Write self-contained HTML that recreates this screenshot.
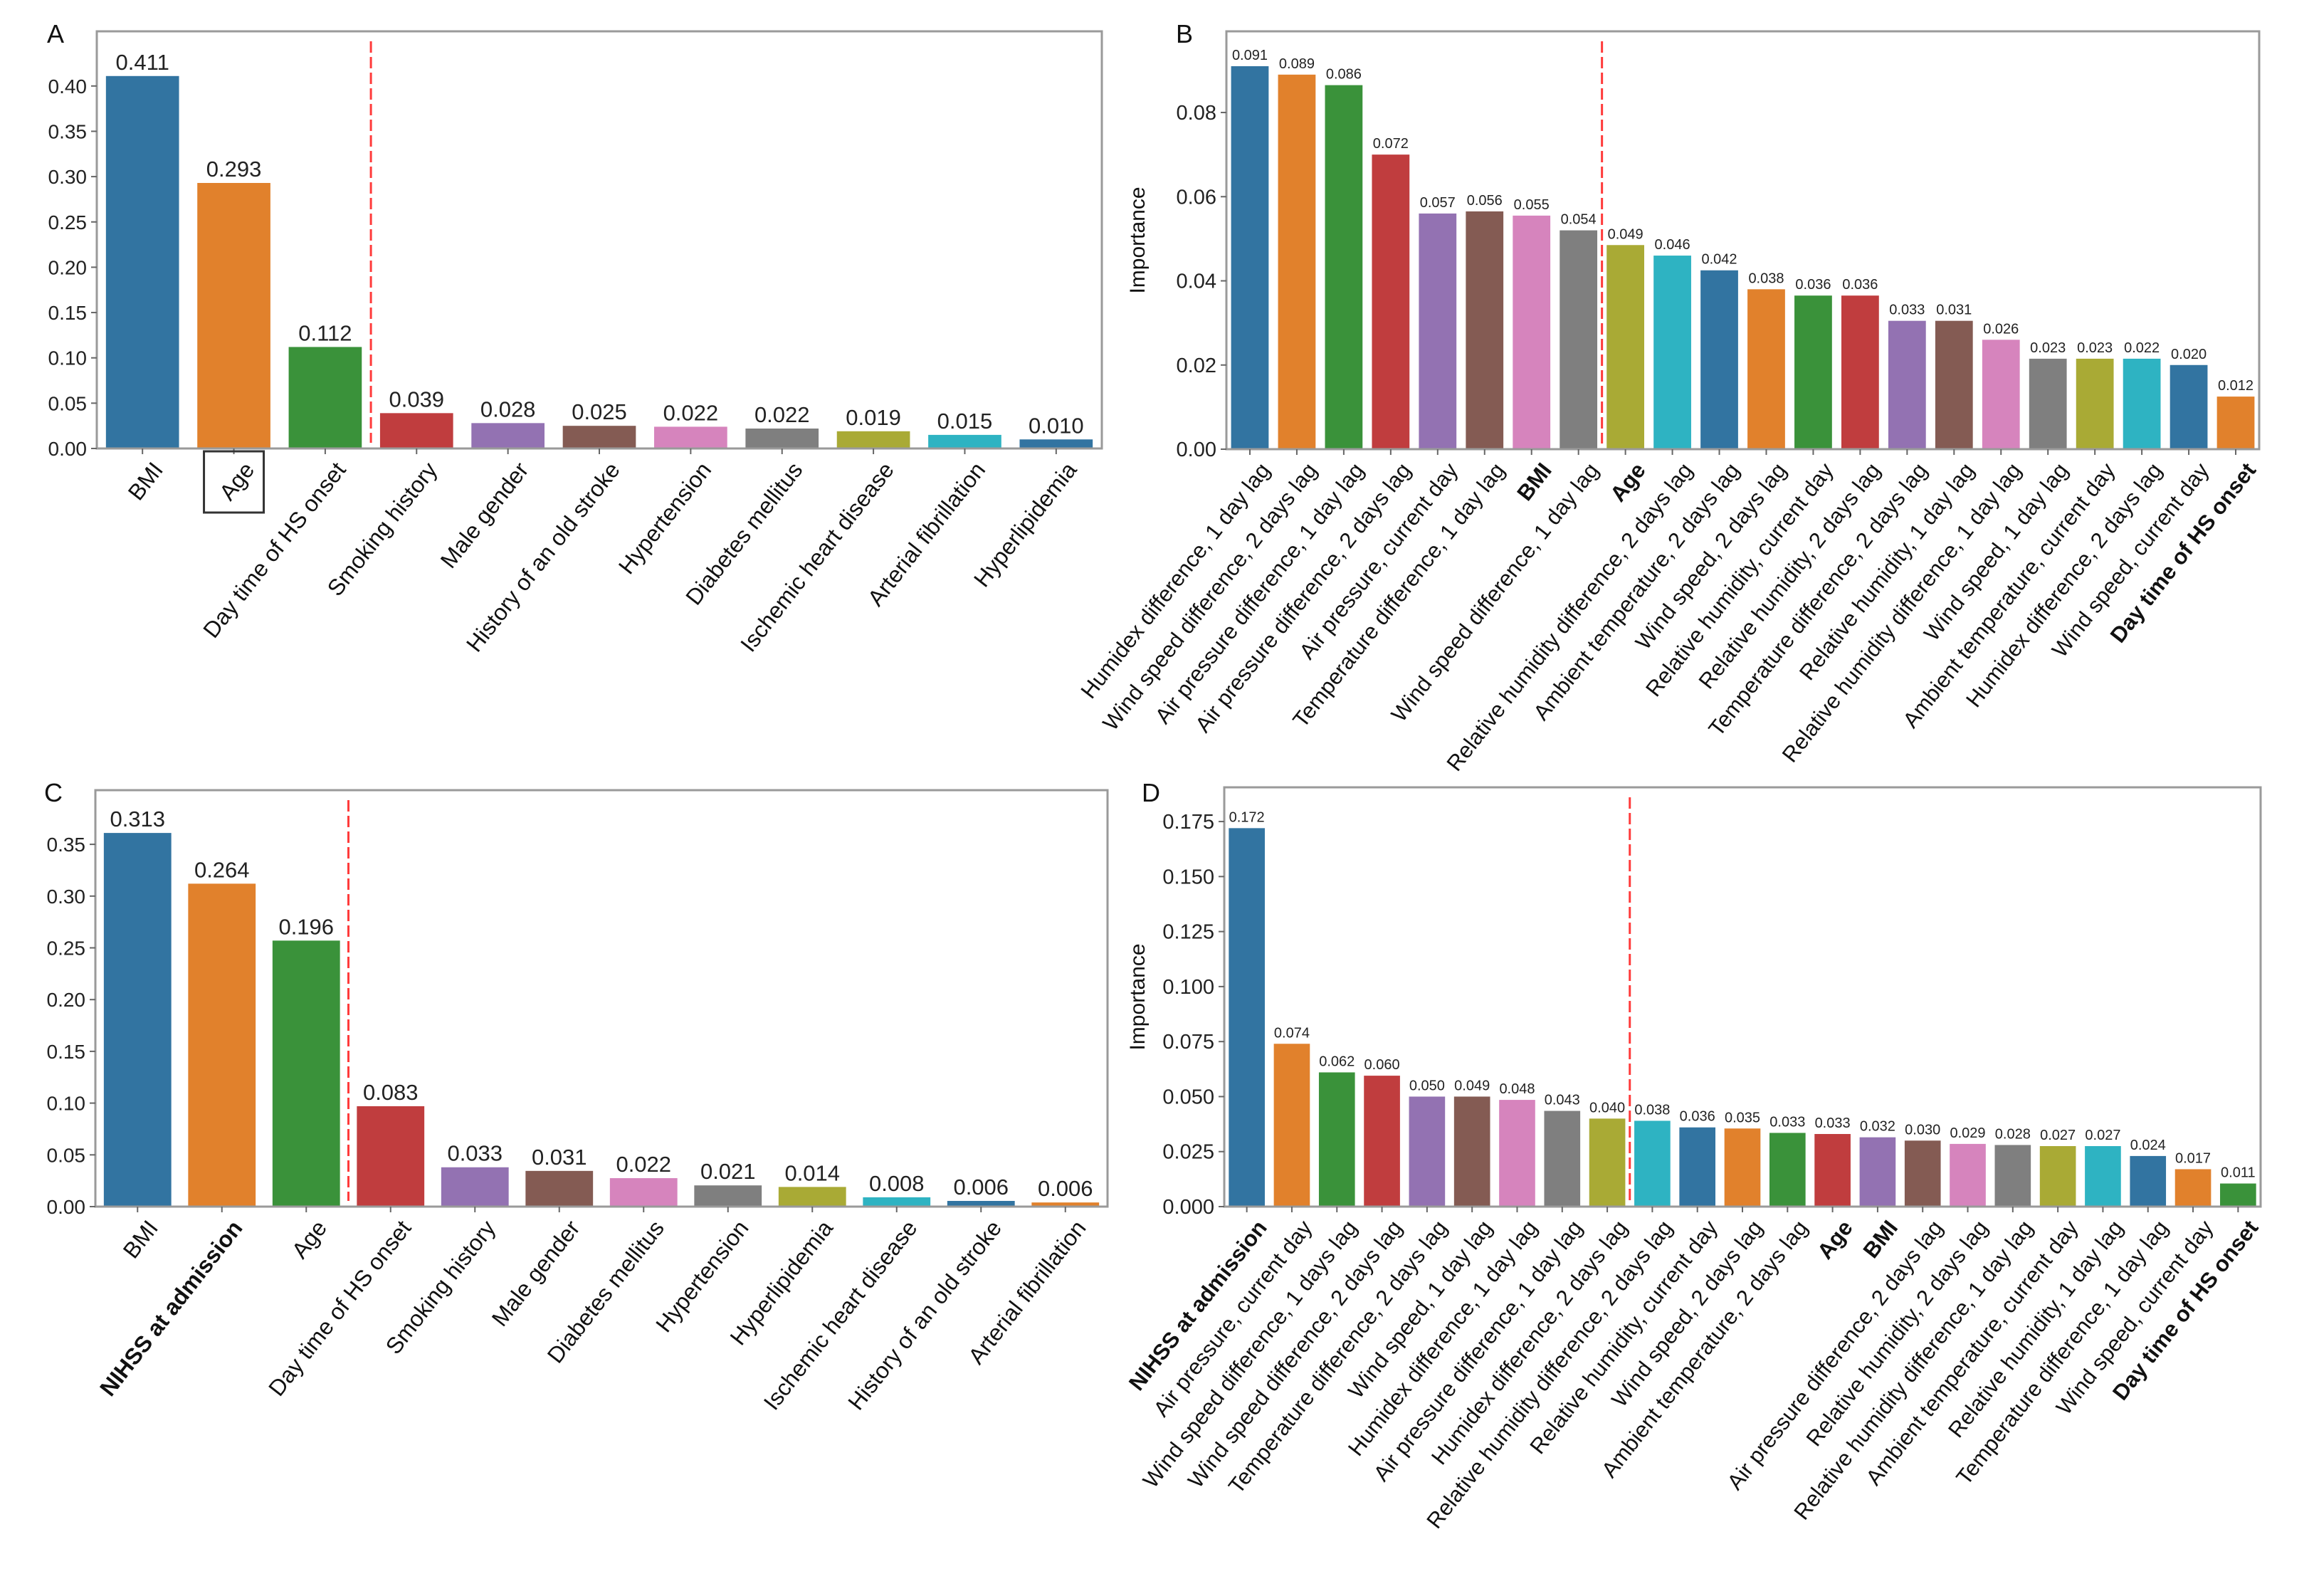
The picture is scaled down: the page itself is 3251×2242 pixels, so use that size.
<!DOCTYPE html>
<html><head><meta charset="utf-8">
<style>
html,body{margin:0;padding:0;background:#fff;}
svg{display:block;font-family:"Liberation Sans",sans-serif;}
</style></head>
<body>
<svg id="fig" width="3251" height="2242" viewBox="0 0 3251 2242" xmlns="http://www.w3.org/2000/svg"></svg>
<script>
const palette = ["#3274a1","#e1812c","#3a923a","#c03d3e","#9372b2","#845b53","#d684bd","#7f7f7f","#a9aa35","#2eb3c2"];

// Panel A
const catsA = ["BMI","Age","Day time of HS onset","Smoking history","Male gender","History of an old stroke","Hypertension","Diabetes mellitus","Ischemic heart disease","Arterial fibrillation","Hyperlipidemia"];
const valsA = [0.411,0.293,0.112,0.039,0.028,0.025,0.024,0.022,0.019,0.015,0.010];
const labsA = ["0.411","0.293","0.112","0.039","0.028","0.025","0.022","0.022","0.019","0.015","0.010"];
const ticksA = [0,0.05,0.10,0.15,0.20,0.25,0.30,0.35,0.40];
const boldA = [];

// Panel B
const catsB = ["Humidex difference, 1 day lag","Wind speed difference, 2 days lag","Air pressure difference, 1 day lag","Air pressure difference, 2 days lag","Air pressure, current day","Temperature difference, 1 day lag","BMI","Wind speed difference, 1 day lag","Age","Relative humidity difference, 2 days lag","Ambient temperature, 2 days lag","Wind speed, 2 days lag","Relative humidity, current day","Relative humidity, 2 days lag","Temperature difference, 2 days lag","Relative humidity, 1 day lag","Relative humidity difference, 1 day lag","Wind speed, 1 day lag","Ambient temperature, current day","Humidex difference, 2 days lag","Wind speed, current day","Day time of HS onset"];
const valsB = [0.091,0.089,0.0865,0.070,0.056,0.0565,0.0555,0.052,0.0485,0.046,0.0425,0.038,0.0365,0.0365,0.0305,0.0305,0.026,0.0215,0.0215,0.0215,0.020,0.0125];
const labsB = ["0.091","0.089","0.086","0.072","0.057","0.056","0.055","0.054","0.049","0.046","0.042","0.038","0.036","0.036","0.033","0.031","0.026","0.023","0.023","0.022","0.020","0.012"];
const ticksB = [0,0.02,0.04,0.06,0.08];
const boldB = ["BMI","Age","Day time of HS onset"];

// Panel C
const catsC = ["BMI","NIHSS at admission","Age","Day time of HS onset","Smoking history","Male gender","Diabetes mellitus","Hypertension","Hyperlipidemia","Ischemic heart disease","History of an old stroke","Arterial fibrillation"];
const valsC = [0.361,0.312,0.257,0.097,0.038,0.0345,0.0275,0.0205,0.019,0.009,0.0055,0.004];
const labsC = ["0.313","0.264","0.196","0.083","0.033","0.031","0.022","0.021","0.014","0.008","0.006","0.006"];
const ticksC = [0,0.05,0.10,0.15,0.20,0.25,0.30,0.35];
const boldC = ["NIHSS at admission"];

// Panel D
const catsD = ["NIHSS at admission","Air pressure, current day","Wind speed difference, 1 days lag","Wind speed difference, 2 days lag","Temperature difference, 2 days lag","Wind speed, 1 day lag","Humidex difference, 1 day lag","Air pressure difference, 1 day lag","Humidex difference, 2 days lag","Relative humidity difference, 2 days lag","Relative humidity, current day","Wind speed, 2 days lag","Ambient temperature, 2 days lag","Age","BMI","Air pressure difference, 2 days lag","Relative humidity, 2 days lag","Relative humidity difference, 1 day lag","Ambient temperature, current day","Relative humidity, 1 day lag","Temperature difference, 1 day lag","Wind speed, current day","Day time of HS onset"];
const valsD = [0.172,0.074,0.061,0.0595,0.050,0.050,0.0485,0.0435,0.040,0.039,0.036,0.0355,0.0335,0.033,0.0315,0.030,0.0285,0.028,0.0275,0.0275,0.023,0.017,0.0105];
const labsD = ["0.172","0.074","0.062","0.060","0.050","0.049","0.048","0.043","0.040","0.038","0.036","0.035","0.033","0.033","0.032","0.030","0.029","0.028","0.027","0.027","0.024","0.017","0.011"];
const ticksD = [0,0.025,0.05,0.075,0.10,0.125,0.15,0.175];
const boldD = ["NIHSS at admission","Age","BMI","Day time of HS onset"];

const NS = "http://www.w3.org/2000/svg";
const fig = document.getElementById("fig");
function mk(tag, attrs, parent){
  const e = document.createElementNS(NS, tag);
  for (const k in attrs) e.setAttribute(k, attrs[k]);
  (parent||fig).appendChild(e);
  return e;
}

function panel(cfg){
  const g = mk("g", {});
  
  
  const n = cfg.cats.length;
  const sp = (cfg.right - cfg.left) / n;
  const xf = i => cfg.left + (i + 0.5) * sp;
  const yf = v => cfg.zero - v * cfg.scale;
  const L = mk("text", {x: cfg.letterX, y: cfg.letterY, "font-size": 36, fill: "#111"}, g);
  L.textContent = cfg.id;
  
  
  cfg.vals.forEach((v, i) => {
    const bw = sp * 0.8;
    const r = mk("rect", {x: xf(i) - bw/2, y: yf(v), width: bw, height: cfg.zero - yf(v), fill: palette[i % 10]}, g);
    
    
    const t = mk("text", {x: xf(i), y: yf(v) - 9, "text-anchor": "middle", "font-size": cfg.vfs, fill: "#222"}, g);
    t.textContent = cfg.labs[i];
    
    
  });
  const lx = cfg.left + cfg.split * sp;
  const dl = mk("line", {x1: lx, x2: lx, y1: cfg.top + 14, y2: cfg.zero - 8, stroke: "#ff3b3b", "stroke-width": 3, "stroke-dasharray": "16 6"}, g);
  
  
  const fr = mk("rect", {x: cfg.left, y: cfg.top, width: cfg.right - cfg.left, height: cfg.zero - cfg.top, fill: "none", stroke: "#9a9a9a", "stroke-width": 3}, g);
  
  
  cfg.ticks.forEach(tv => {
    const y = yf(tv);
    mk("line", {x1: cfg.left - 8, x2: cfg.left, y1: y, y2: y, stroke: "#666", "stroke-width": 2}, g);
    const t = mk("text", {x: cfg.left - 14, y: y + 10, "text-anchor": "end", "font-size": cfg.tfs, fill: "#222"}, g);
    t.textContent = tv.toFixed(cfg.dec);
    
    
  });
  cfg.cats.forEach((c, i) => {
    const x = xf(i);
    mk("line", {x1: x, x2: x, y1: cfg.zero, y2: cfg.zero + 8, stroke: "#666", "stroke-width": 2}, g);
    const t = mk("text", {transform: `translate(${x + 12},${cfg.zero + 16}) rotate(-52)`, "text-anchor": "end", "dominant-baseline": "hanging", "font-size": cfg.xfs, fill: "#111", "font-weight": cfg.bold.includes(c) ? "bold" : "normal"}, g);
    t.textContent = c;
    
    
  });
  if (cfg.ylabel) {
    const t = mk("text", {transform: `translate(${cfg.ylabelX},${(cfg.top + cfg.zero)/2}) rotate(-90)`, "text-anchor": "middle", "font-size": 30, fill: "#111"}, g);
    t.textContent = "Importance";
    
    
  }
  return {xf, yf};
}

const A = panel({id:"A", cats:catsA, vals:valsA, labs:labsA, ticks:ticksA, bold:boldA, left:136, right:1548, top:44, zero:630, scale:1273, split:3, vfs:31, tfs:28, xfs:32, dec:2, letterX:66, letterY:60});
const ab = mk("rect", {x: A.xf(1) - 42, y: 634, width: 84, height: 86, fill: "none", stroke: "#333", "stroke-width": 3});



panel({id:"B", cats:catsB, vals:valsB, labs:labsB, ticks:ticksB, bold:boldB, left:1723, right:3174, top:44, zero:631, scale:5912, split:8, vfs:20, tfs:29, xfs:31, dec:2, letterX:1652, letterY:60, ylabel:true, ylabelX:1608});
panel({id:"C", cats:catsC, vals:valsC, labs:labsC, ticks:ticksC, bold:boldC, left:134, right:1556, top:1110, zero:1695, scale:1454, split:3, vfs:31, tfs:28, xfs:32, dec:2, letterX:62, letterY:1126});
panel({id:"D", cats:catsD, vals:valsD, labs:labsD, ticks:ticksD, bold:boldD, left:1720, right:3176, top:1106, zero:1695, scale:3091, split:9, vfs:20, tfs:29, xfs:31, dec:3, letterX:1604, letterY:1126, ylabel:true, ylabelX:1608});
</script>
</body></html>
